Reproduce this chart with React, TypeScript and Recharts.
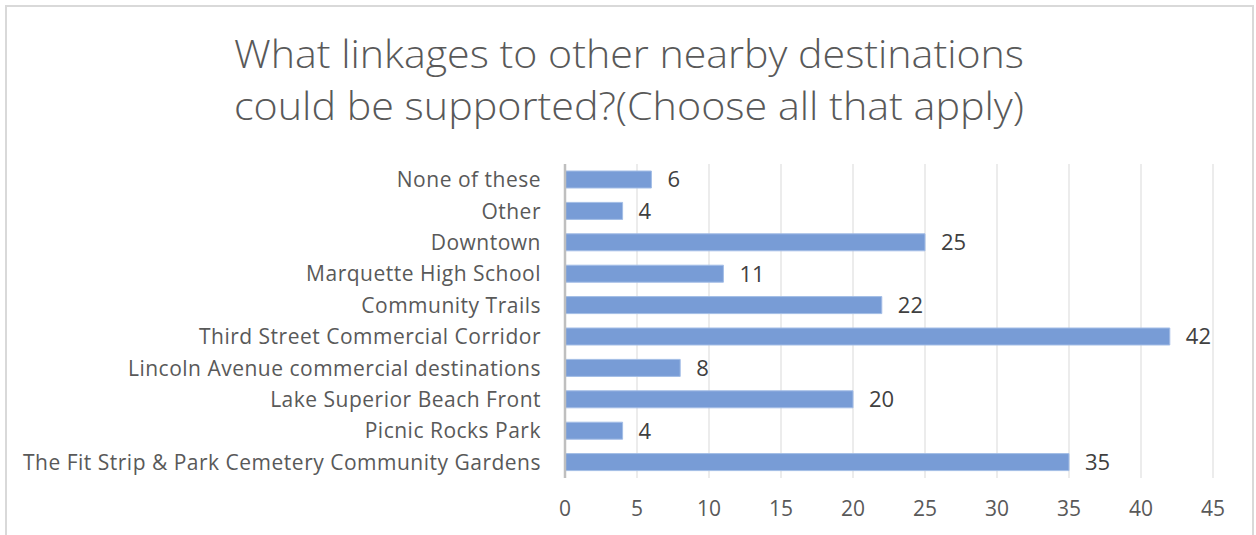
import { Bar, BarChart, CartesianGrid, LabelList, XAxis, YAxis } from "recharts";

const categories = [
  "None of these",
  "Other",
  "Downtown",
  "Marquette High School",
  "Community Trails",
  "Third Street Commercial Corridor",
  "Lincoln Avenue commercial destinations",
  "Lake Superior Beach Front",
  "Picnic Rocks Park",
  "The Fit Strip & Park Cemetery Community Gardens",
];
const counts = [6, 4, 25, 11, 22, 42, 8, 20, 4, 35];
const xTicks = [0, 5, 10, 15, 20, 25, 30, 35, 40, 45];
const titleLines = [
  "What linkages to other nearby destinations",
  "could be supported?(Choose all that apply)",
];

const data = categories.map((name, i) => ({ name, count: counts[i] }));

const FONT = "'Open Sans', sans-serif";

function App() {
  return (
    <div style={{ position: "absolute", left: 0, top: 0, width: 1256, height: 535, overflow: "hidden", background: "#fff" }}>
      <div
        style={{
          position: "absolute",
          left: 5,
          top: 5,
          width: 1245,
          height: 560,
          border: "2px solid #d9d9d9",
        }}
      />
      <svg style={{ position: "absolute", left: 0, top: 0 }} width={1256} height={140}>
        {titleLines.map((t, i) => (
          <text
            key={i}
            x={629}
            y={68 + i * 52}
            textAnchor="middle"
            fontFamily={FONT}
            fontWeight={300}
            fontSize={38}
            fill="#595959"
            textLength={790}
            lengthAdjust="spacingAndGlyphs"
          >
            {t}
          </text>
        ))}
      </svg>
      <div style={{ position: "absolute", left: 0, top: 0 }}>
        <BarChart
          width={1256}
          height={535}
          data={data}
          layout="vertical"
          margin={{ top: 164, right: 43, bottom: 27, left: 0 }}
        >
          <CartesianGrid horizontal={false} stroke="#e6e6e6" strokeWidth={1.5} />
          <XAxis
            type="number"
            domain={[0, 45]}
            ticks={xTicks}
            interval={0}
            axisLine={false}
            tickLine={false}
            tickSize={0}
            tickMargin={23}
            height={30}
            tick={{ fill: "#595959", fontSize: 21, fontFamily: FONT }}
          />
          <YAxis
            type="category"
            dataKey="name"
            width={565}
            interval={0}
            tickLine={false}
            tickSize={0}
            tickMargin={24}
            axisLine={{ stroke: "#bfbfbf", strokeWidth: 2.5 }}
            tick={{ fill: "#595959", fontSize: 21, fontFamily: FONT, letterSpacing: 0.5 }}
          />
          <Bar dataKey="count" fill="#789CD6" stroke="#a3bde6" strokeWidth={1} barSize={17} isAnimationActive={false}>
            <LabelList
              dataKey="count"
              position="right"
              offset={16}
              fill="#404040"
              fontSize={22}
              fontFamily={FONT}
            />
          </Bar>
        </BarChart>
      </div>
    </div>
  );
}

export default App;
